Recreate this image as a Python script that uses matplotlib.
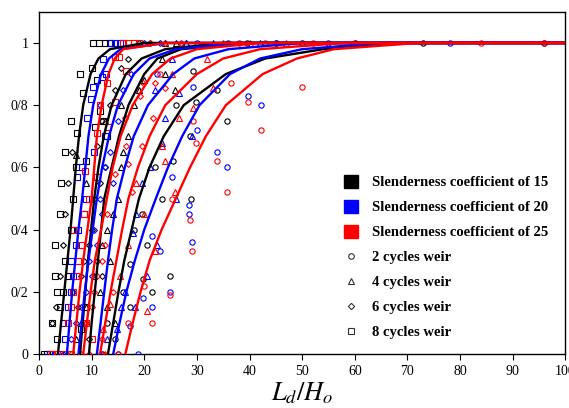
import matplotlib
matplotlib.use("Agg")
import matplotlib.pyplot as plt
from matplotlib.lines import Line2D
from matplotlib.patches import Patch

plt.rcParams['font.family'] = ['Liberation Serif', 'DejaVu Serif']
plt.rcParams['mathtext.fontset'] = 'stix'

# pi levels shared by all fitted curves
pi_levels = [0, 0.1, 0.2, 0.3, 0.4, 0.5, 0.6, 0.7, 0.8, 0.9, 0.95, 0.98, 1.0, 1.0]

# Ld/Ho read at each pi level (slenderness 15 = black, 20 = blue, 25 = red)
curve_k1 = [3.6, 4.2, 4.8, 5.4, 6.0, 6.5, 7.0, 7.6, 8.4, 9.8, 11.3, 13.5, 20, 100]
curve_b1 = [5.3, 5.8, 6.3, 6.9, 7.5, 8.2, 8.8, 9.4, 10.3, 11.8, 13.3, 15.5, 24, 100]
curve_r1 = [6.5, 7.1, 7.7, 8.4, 9.2, 10.0, 10.5, 11.0, 11.9, 13.2, 14.4, 16.0, 24, 100]
curve_k2 = [7.8, 8.3, 8.8, 9.3, 9.9, 10.5, 11.3, 12.3, 13.8, 16.5, 19.5, 24, 35, 100]
curve_b2 = [7.5, 8.1, 8.7, 9.4, 10.2, 11.0, 12.0, 13.3, 15.0, 18.0, 21.0, 26, 38, 100]
curve_r2 = [8.4, 9.1, 9.8, 10.6, 11.8, 12.9, 14.0, 15.5, 17.8, 21.5, 25.0, 30, 42, 100]
curve_k3 = [9.5, 10.0, 10.6, 11.2, 11.8, 12.4, 13.8, 15.2, 17.0, 20.0, 22.5, 27, 40, 100]
curve_b3 = [11.0, 11.7, 12.4, 13.1, 13.9, 14.8, 16.3, 18.0, 20.7, 25.5, 29.5, 36, 50, 100]
curve_r3 = [11.6, 12.6, 13.6, 14.7, 15.8, 17.0, 18.8, 21.0, 24.0, 30.0, 35, 42, 58, 100]
curve_k4 = [13.1, 14.1, 15.1, 16.2, 17.6, 19.0, 21.0, 23.7, 27.5, 35.5, 43, 54, 70, 100]
curve_b4 = [14.1, 15.3, 16.6, 18.2, 20.0, 22.2, 24.5, 27.2, 30.5, 36.3, 42, 50, 65, 100]
curve_r4 = [16.4, 17.8, 19.3, 21.0, 23.3, 26.0, 28.7, 31.7, 35.5, 42.5, 49, 56, 72, 100]

# measured points (Ld/Ho, pi)
sq_15 = [(1.0, 0), (1.5, 0), (2.0, 0), (2.5, 0.1), (3.0, 0.25), (3.5, 0.05), (3.0, 0.35),
         (4.0, 0.15), (4.5, 0.2), (5.0, 0.3), (4.0, 0.45), (3.5, 0.2), (5.5, 0.25), (6.0, 0.4),
         (4.2, 0.55), (6.5, 0.5), (5.0, 0.65), (7.2, 0.71), (6.1, 0.75), (7.0, 0.6), (7.8, 0.9),
         (8.4, 0.84), (10.0, 0.92), (11.0, 0.88), (11.6, 0.78), (10.6, 0.73), (12.2, 0.75),
         (13.0, 0.7), (9.0, 0.62), (10.3, 1), (11.4, 1), (12.6, 1), (13.5, 1), (8.0, 0.08), (9.0, 0.15)]
dm_15 = [(2.5, 0.1), (3.3, 0.15), (4.0, 0.25), (4.5, 0.35), (5.0, 0.45), (6.3, 0.65), (5.5, 0.55),
         (6.5, 0.2), (7.5, 0.15), (8.0, 0.25), (8.5, 0.3), (9.0, 0.1), (9.5, 0.35), (10.0, 0.4),
         (10.5, 0.5), (11.0, 0.67), (11.5, 0.55), (12.0, 0.75), (12.5, 0.6), (13.5, 0.8),
         (14.5, 0.85), (15.5, 0.92), (17.0, 0.95), (19.0, 1), (21.0, 1), (12.0, 0.25), (11.0, 0.3), (9.5, 0.05)]
tr_15 = [(7.0, 0.05), (8.0, 0.1), (9.0, 0.15), (10.5, 0.25), (11.5, 0.2), (12.0, 0.35), (13.0, 0.4),
         (13.5, 0.3), (14.0, 0.45), (15.5, 0.6), (15.0, 0.5), (16.0, 0.65), (17.0, 0.7), (18.0, 0.8),
         (19.0, 0.85), (20.0, 0.88), (23.4, 0.95), (24.0, 0.9), (25.9, 0.85), (24.0, 1), (26.0, 1),
         (28.0, 1), (13.0, 0.15), (14.5, 0.1), (7.0, 0.64), (9.0, 0.55), (12.5, 0.75), (15.5, 0.8)]
ci_15 = [(12.0, 0), (12.9, 0.1), (14.5, 0.05), (16.0, 0.2), (17.3, 0.15), (17.3, 0.29), (18.0, 0.4),
         (19.8, 0.24), (21.5, 0.2), (24.9, 0.25), (19.5, 0.45), (20.5, 0.35), (23.4, 0.5), (28.9, 0.5),
         (25.5, 0.62), (22.0, 0.6), (28.7, 0.7), (29.9, 0.81), (35.7, 0.75), (33.8, 0.85), (29.3, 0.91),
         (26.0, 0.8), (39.6, 1), (45.0, 1), (50.0, 1), (60.0, 1), (73.0, 1), (96.0, 1)]

sq_20 = [(2.0, 0), (3.0, 0), (4.0, 0), (4.5, 0.1), (5.0, 0.05), (5.5, 0.15), (6.0, 0.2), (6.0, 0.3),
         (6.5, 0.25), (7.0, 0.35), (7.5, 0.4), (7.2, 0.57), (8.2, 0.6), (8.5, 0.45), (9.0, 0.5),
         (9.1, 0.76), (9.9, 0.82), (10.3, 0.86), (12.0, 0.89), (12.7, 0.9), (12.2, 0.95), (12.5, 0.7),
         (10.5, 0.65), (13.7, 1), (14.5, 1), (15.3, 1), (16.0, 1)]
dm_20 = [(4.5, 0), (6.0, 0.05), (7.0, 0.1), (8.0, 0.15), (9.0, 0.2), (9.5, 0.3), (10.0, 0.25),
         (10.5, 0.4), (11.0, 0.35), (11.5, 0.5), (12.0, 0.45), (12.5, 0.6), (13.5, 0.65), (14.0, 0.55),
         (15.0, 0.75), (16.0, 0.85), (17.5, 0.9), (20.0, 1), (23.0, 1), (11.5, 0.8)]
tr_20 = [(12.0, 0), (13.0, 0.05), (14.8, 0.08), (15.5, 0.15), (16.3, 0.2), (18.3, 0.15), (20.5, 0.25),
         (17.9, 0.39), (22.4, 0.35), (18.5, 0.45), (19.5, 0.55), (21.0, 0.6), (23.4, 0.68), (26.0, 0.5),
         (24.0, 0.76), (29.1, 0.7), (26.6, 0.84), (22.0, 0.85), (25.3, 0.95), (28.0, 1), (33.0, 1), (42.0, 1)]
ci_20 = [(15.0, 0), (18.8, 0), (17.3, 0.09), (19.8, 0.18), (21.5, 0.15), (24.9, 0.2), (23.0, 0.33),
         (21.5, 0.38), (29.0, 0.36), (28.5, 0.45), (28.5, 0.48), (25.3, 0.57), (35.7, 0.6), (33.8, 0.65),
         (30.0, 0.72), (29.3, 0.86), (39.7, 0.83), (42.2, 0.8), (22.5, 0.9), (30.0, 1), (36.0, 1),
         (45.0, 1), (55.0, 1), (78.0, 1)]

sq_25 = [(2.5, 0), (3.5, 0), (5.0, 0), (6.0, 0), (5.5, 0.1), (6.0, 0.15), (6.5, 0.2), (7.0, 0.25),
         (7.5, 0.3), (6.5, 0.4), (8.0, 0.35), (8.5, 0.45), (9.5, 0.5), (8.7, 0.59), (11.0, 0.57),
         (11.0, 0.71), (13.1, 0.73), (11.6, 0.8), (14.5, 0.81), (12.9, 0.87), (16.5, 0.91), (14.5, 0.955),
         (15.2, 0.955), (16.0, 1), (17.0, 1), (18.0, 1), (19.0, 1), (10.0, 0.05), (9.0, 0.1)]
dm_25 = [(6.0, 0), (8.0, 0), (9.5, 0), (9.0, 0.1), (10.0, 0.15), (10.5, 0.2), (11.0, 0.25), (12.0, 0.3),
         (12.5, 0.35), (13.0, 0.45), (14.5, 0.58), (17.7, 0.52), (16.9, 0.61), (16.5, 0.67), (19.6, 0.67),
         (16.3, 0.76), (21.7, 0.76), (19.2, 0.83), (19.6, 0.875), (22.0, 0.87), (24.0, 0.855), (21.0, 1),
         (24.0, 1), (27.0, 1), (12.0, 0.05), (14.0, 0.2)]
tr_25 = [(12.5, 0), (12.2, 0.08), (13.5, 0.16), (15.4, 0.25), (20.5, 0.14), (17.0, 0.35), (22.0, 0.33),
         (20.0, 0.45), (18.5, 0.55), (25.9, 0.52), (24.0, 0.62), (23.4, 0.67), (26.6, 0.76), (29.3, 0.79),
         (33.1, 0.855), (25.3, 0.9), (31.9, 0.95), (35.0, 1), (40.0, 1), (47.0, 1)]
ci_25 = [(11.8, 0), (15.0, 0), (17.0, 0.1), (21.5, 0.1), (20.0, 0.22), (24.9, 0.19), (29.0, 0.33),
         (28.7, 0.43), (25.3, 0.5), (35.7, 0.52), (33.8, 0.62), (29.9, 0.68), (29.3, 0.75), (42.2, 0.72),
         (39.7, 0.81), (36.5, 0.87), (50.0, 0.86), (23.0, 0.9), (38.0, 1), (43.0, 1), (52.0, 1),
         (60.0, 1), (84.0, 1), (96.0, 1)]

colors = {'15': 'black', '20': '#0000ff', '25': '#ff0000'}

fig = plt.figure(figsize=(5.69, 4.08), dpi=100)
ax = fig.add_axes([0.0685, 0.132, 0.925, 0.839])

# scatter points
groups = [
    (sq_15, 's', '15'), (dm_15, 'D', '15'), (tr_15, '^', '15'), (ci_15, 'o', '15'),
    (sq_20, 's', '20'), (dm_20, 'D', '20'), (tr_20, '^', '20'), (ci_20, 'o', '20'),
    (sq_25, 's', '25'), (dm_25, 'D', '25'), (tr_25, '^', '25'), (ci_25, 'o', '25'),
]
for pts, mk, key in groups:
    xs = [p[0] for p in pts]
    ys = [p[1] for p in pts]
    ms = 3.0 if mk == 'D' else 3.8
    ax.plot(xs, ys, linestyle='none', marker=mk, markersize=ms, markerfacecolor='none',
            markeredgecolor=colors[key], markeredgewidth=0.8, zorder=3)

# fitted curves
curves = [
    (curve_k1, '15'), (curve_k2, '15'), (curve_k3, '15'), (curve_k4, '15'),
    (curve_b1, '20'), (curve_b2, '20'), (curve_b3, '20'), (curve_b4, '20'),
    (curve_r1, '25'), (curve_r2, '25'), (curve_r3, '25'), (curve_r4, '25'),
]
for xs, key in curves:
    ax.plot(xs, pi_levels, color=colors[key], linewidth=1.7, zorder=4)

ax.set_xlim(0, 100)
ax.set_ylim(0, 1.1)
ax.set_xticks(range(0, 101, 10))
ax.set_yticks([0, 0.2, 0.4, 0.6, 0.8, 1.0])
ax.set_yticklabels(['0', '0/2', '0/4', '0/6', '0/8', '1'])
ax.tick_params(direction='out', length=4, width=0.8, labelsize=10, colors='black')
for sp in ax.spines.values():
    sp.set_linewidth(1.0)

ax.set_xlabel('$L_d/H_o$', fontsize=19, labelpad=2)
ax.set_ylabel('$\\pi$', fontsize=20, labelpad=4)

handles = [
    Patch(facecolor='black', edgecolor='black'),
    Patch(facecolor='#0000ff', edgecolor='#0000ff'),
    Patch(facecolor='#ff0000', edgecolor='#ff0000'),
    Line2D([], [], linestyle='none', marker='o', markersize=4, markerfacecolor='none',
           markeredgecolor='#333333', markeredgewidth=0.8),
    Line2D([], [], linestyle='none', marker='^', markersize=4, markerfacecolor='none',
           markeredgecolor='#333333', markeredgewidth=0.8),
    Line2D([], [], linestyle='none', marker='D', markersize=3.2, markerfacecolor='none',
           markeredgecolor='#333333', markeredgewidth=0.8),
    Line2D([], [], linestyle='none', marker='s', markersize=4, markerfacecolor='none',
           markeredgecolor='#333333', markeredgewidth=0.8),
]
labels = ['Slenderness coefficient of 15', 'Slenderness coefficient of 20',
          'Slenderness coefficient of 25', '2 cycles weir', '4 cycles weir',
          '6 cycles weir', '8 cycles weir']
fig.legend(handles, labels, loc='upper left', bbox_to_anchor=(338 / 569, 1 - 169 / 408),
           frameon=False, prop={'family': 'Liberation Serif', 'weight': 'bold', 'size': 10.5},
           handlelength=1.0, handleheight=1.0, handletextpad=0.9, labelspacing=0.72,
           borderaxespad=0)

fig.savefig('out.png', dpi=100)
